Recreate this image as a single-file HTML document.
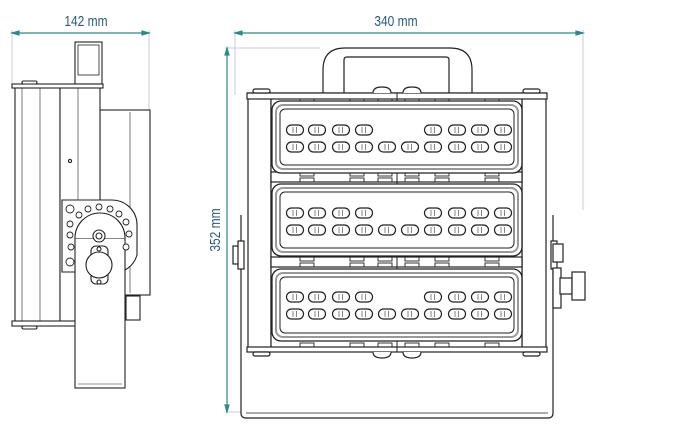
<!DOCTYPE html>
<html><head><meta charset="utf-8"><style>
html,body{margin:0;padding:0;background:#fff;}
svg{display:block}
text{font-family:"Liberation Sans Narrow","Liberation Sans",sans-serif;fill:#2b5a7a}
</style></head><body>
<svg width="697" height="442" viewBox="0 0 697 442" xmlns="http://www.w3.org/2000/svg">
<defs>
<g id="led"><rect x="-8.5" y="-5" width="17" height="10" rx="5" fill="#fff" stroke="#222" stroke-width="1.2"/><line x1="-2" y1="-3" x2="-2" y2="3" stroke="#666" stroke-width="0.8"/><line x1="1.5" y1="-3" x2="1.5" y2="3" stroke="#666" stroke-width="0.8"/></g>
<g id="row1"><use href="#led" x="295"/><use href="#led" x="317"/><use href="#led" x="341"/><use href="#led" x="364"/><use href="#led" x="433"/><use href="#led" x="457"/><use href="#led" x="480"/><use href="#led" x="503"/></g>
<g id="row2"><use href="#led" x="295"/><use href="#led" x="317"/><use href="#led" x="341"/><use href="#led" x="364"/><use href="#led" x="387"/><use href="#led" x="410"/><use href="#led" x="433"/><use href="#led" x="457"/><use href="#led" x="480"/><use href="#led" x="503"/></g>
<g id="mod">
<rect x="272" y="0" width="250" height="72" rx="9" fill="#fff" stroke="#222" stroke-width="1.3"/>
<rect x="276" y="4" width="242" height="64" rx="7" fill="none" stroke="#999" stroke-width="2"/>
<rect x="280" y="8" width="234" height="56" rx="5" fill="none" stroke="#222" stroke-width="1"/>
</g>
<g id="tabs" fill="none" stroke="#222" stroke-width="0.9">
<rect x="300" y="0" width="14" height="4"/><rect x="350" y="0" width="14" height="4"/><rect x="435" y="0" width="14" height="4"/><rect x="485" y="0" width="14" height="4"/>
<rect x="378" y="0" width="14" height="4"/><rect x="405" y="0" width="14" height="4"/>
</g>
</defs>

<g stroke="#c9cbe0" stroke-width="1">
<line x1="12" y1="30" x2="12" y2="88"/><line x1="149" y1="30" x2="149" y2="110"/>
<line x1="235" y1="30" x2="235" y2="95"/><line x1="583" y1="30" x2="583" y2="210"/>
<line x1="225" y1="48" x2="320" y2="48"/><line x1="225" y1="412" x2="241" y2="412"/>
</g>
<g stroke="#2d8a86" stroke-width="1.2" fill="#2d8a86">
<line x1="12" y1="33" x2="149" y2="33"/><path d="M12 33 l7 -2 v4z M149 33 l-7 -2 v4z"/>
<line x1="235" y1="33" x2="583" y2="33"/><path d="M235 33 l7 -2 v4z M583 33 l-7 -2 v4z"/>
<line x1="227" y1="48" x2="227" y2="412"/><path d="M227 48 l-2 7 h4z M227 412 l-2 -7 h4z"/>
</g>
<text font-size="15" text-anchor="middle" transform="translate(86 26) scale(0.8 1)">142 mm</text>
<text font-size="15" text-anchor="middle" transform="translate(396 26) scale(0.8 1)">340 mm</text>
<text font-size="15" text-anchor="middle" transform="translate(220 230) rotate(-90) scale(0.8 1)">352 mm</text>

<g fill="#fff" stroke="#222" stroke-width="1.1">
<rect x="75" y="42" width="27" height="42"/>
<rect x="78" y="45" width="21" height="30" fill="none" stroke-width="0.8"/>
<rect x="100" y="110" width="50" height="185"/>
<line x1="130" y1="112" x2="130" y2="293" stroke-width="0.6"/>
<rect x="15" y="87" width="45" height="235"/>
<line x1="22" y1="87" x2="22" y2="322" stroke-width="0.6"/><line x1="40" y1="87" x2="40" y2="322" stroke-width="0.6"/>
<rect x="60" y="87" width="40" height="235"/>
<line x1="78" y1="87" x2="78" y2="200" stroke-width="0.6"/>
<rect x="12" y="84" width="91" height="4"/>
<rect x="12" y="321" width="64" height="5"/>
<rect x="22" y="81" width="15" height="3" rx="1.5"/>
<rect x="22" y="326" width="15" height="3" rx="1.5"/>
<circle cx="70" cy="161" r="1.6"/>
<path d="M62 200 H112 A25 25 0 0 1 137 225 V255 A25 25 0 0 1 125 270 V272 H62 Z"/>
<rect x="126" y="296" width="14" height="24"/>
<rect x="75" y="238" width="50" height="150"/>
<path d="M75 238 A25 25 0 0 1 125 238" />
<line x1="78" y1="384" x2="122" y2="384" stroke-width="0.6"/>
<circle cx="99" cy="236" r="6"/><circle cx="99" cy="236" r="3"/>
<rect x="91" y="246" width="17" height="38" rx="5"/>
<circle cx="99" cy="265" r="13"/>
<circle cx="99" cy="249" r="2"/><circle cx="99" cy="282" r="2"/>
</g>
<g fill="#fff" stroke="#222" stroke-width="0.9">
<circle cx="70" cy="209" r="4"/><circle cx="70" cy="262" r="4"/>
<circle cx="79" cy="215" r="3"/><circle cx="88" cy="209" r="3"/><circle cx="99" cy="207" r="3"/><circle cx="110" cy="209" r="3"/><circle cx="119" cy="214" r="3"/><circle cx="126" cy="222" r="3"/><circle cx="129" cy="234" r="3"/><circle cx="126" cy="247" r="3"/>
<circle cx="70" cy="224" r="3"/><circle cx="70" cy="235" r="3"/><circle cx="71" cy="247" r="3"/>
</g>

<g fill="#fff" stroke="#222" stroke-width="1.2">
<path d="M241 215 V413 Q241 418 246 418 H548 Q553 418 553 413 V215" fill="#fff"/>
<line x1="246" y1="413" x2="548" y2="413" stroke-width="0.8"/>
<rect x="233" y="246" width="10" height="18"/>
<rect x="238" y="241" width="6" height="28"/>
<rect x="551" y="241" width="6" height="28"/>
<rect x="553" y="244" width="10" height="18"/>
<rect x="553" y="268" width="8" height="40"/>
<rect x="560" y="278" width="12" height="16"/>
<rect x="572" y="272" width="13" height="28"/>
<path d="M323 93 V70 Q323 48 345 48 H450 Q472 48 472 70 V93"/>
<path d="M344 93 V60 Q344 57 347 57 H446 Q449 57 449 60 V93"/>
<rect x="248" y="93" width="23" height="256"/>
<rect x="522" y="93" width="24" height="256"/>
<rect x="271" y="93" width="251" height="256"/>
<rect x="247" y="93" width="300" height="6"/>
<rect x="247" y="347" width="300" height="5"/>
<rect x="253" y="89" width="17" height="4" rx="2"/><rect x="523" y="89" width="17" height="4" rx="2"/>
<rect x="253" y="352" width="17" height="4" rx="2"/><rect x="523" y="352" width="17" height="4" rx="2"/>
<path d="M373 93 Q373 87 382 87 Q391 87 391 93"/><path d="M403 93 Q403 87 412 87 Q421 87 421 93"/>
<path d="M373 352 Q373 358 382 358 Q391 358 391 352"/><path d="M403 352 Q403 358 412 358 Q421 358 421 352"/>
<rect x="271" y="172" width="251" height="10"/>
<rect x="271" y="257" width="251" height="10"/>
</g>
<use href="#tabs" y="99"/>
<use href="#tabs" y="172"/><use href="#tabs" y="178"/>
<use href="#tabs" y="257"/><use href="#tabs" y="263"/>
<use href="#tabs" y="343"/>
<line x1="397" y1="93" x2="397" y2="352" stroke="#222" stroke-width="1"/>
<use href="#mod" y="101"/>
<use href="#mod" y="184"/>
<use href="#mod" y="269"/>
<use href="#row1" y="130"/><use href="#row2" y="147"/>
<use href="#row1" y="213"/><use href="#row2" y="230"/>
<use href="#row1" y="297"/><use href="#row2" y="314"/>
</svg>
</body></html>
